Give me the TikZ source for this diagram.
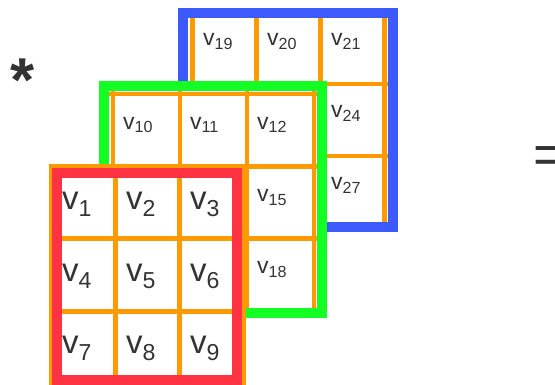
\documentclass[tikz,border=0pt]{standalone}
\usepackage{fontspec}
\setmainfont{Liberation Sans}
\definecolor{gridorange}{HTML}{FF9900}
\definecolor{layerblue}{HTML}{3D5AFE}
\definecolor{layergreen}{HTML}{14FF24}
\definecolor{layerred}{HTML}{FF3341}
\definecolor{labelgray}{HTML}{333333}

\begin{document}
\begin{tikzpicture}[x=1pt, y=-1pt,
    cellgrid/.style={draw=gridorange, line width=4.5pt},
    layerframe/.style={line width=10pt},
    cell/.style={anchor=base west, inner sep=0pt, text=labelgray},
    small cell/.style={cell, font=\fontsize{23}{28}\selectfont},
    big cell/.style={cell, font=\fontsize{33}{40}\selectfont},
    sign/.style={inner sep=0pt, text=labelgray, font=\fontsize{55}{60}\selectfont}]
    \useasboundingbox (0,0) rectangle (555,384);

    % Operators
    \node[sign, anchor=base, font=\fontsize{62}{66}\selectfont\bfseries] (star) at (23,101) {*};
    \node[sign, anchor=base west] (equals) at (533,173) {=};

    % Blue layer (back)
    \fill[white] (178,8) rectangle (398,232);
    \foreach \k in {0,...,3} {
        \draw[cellgrid] ({192.5+64*\k},12) -- ({192.5+64*\k},228);
        \draw[cellgrid] (188,{12+72*\k}) -- (388,{12+72*\k});
    }
    \draw[layerframe, draw=layerblue] (183,13) rectangle (393,227);
    \foreach \c/\r/\n in {0/0/19, 1/0/20, 2/0/21, 2/1/24, 2/2/27}
        \node[small cell] (v\n) at ({203+64*\c},{45.5+72*\r}) {v\textsubscript{\n}};

    % Green layer (middle)
    \fill[white] (99,81) rectangle (327,318);
    \foreach \k in {0,...,3} {
        \draw[cellgrid] ({113+67*\k},91) -- ({113+67*\k},308);
        \draw[cellgrid] (109,{94+72.3*\k}) -- (317,{94+72.3*\k});
    }
    \draw[layerframe, draw=layergreen] (104,86) rectangle (322,313);
    \foreach \c/\r/\n in {0/0/10, 1/0/11, 2/0/12, 2/1/15, 2/2/18}
        \node[small cell] (v\n) at ({123+67*\c},{129+72.3*\r}) {v\textsubscript{\n}};

    % Red layer (front)
    \fill[white] (49.25,163.75) rectangle (245.75,390);
    \foreach \k in {0,...,3} {
        \draw[cellgrid] ({51.5+64*\k},164) -- ({51.5+64*\k},390);
        \draw[cellgrid] (49.25,{166+72.7*\k}) -- (245.75,{166+72.7*\k});
    }
    \draw[layerframe, draw=layerred] (57,172.5) rectangle (237,380);
    \foreach \c/\r [evaluate=\r as \n using int(3*\r+\c+1)] in {0/0,1/0,2/0,0/1,1/1,2/1,0/2,1/2,2/2}
        \node[big cell] (v\n) at ({62+64*\c},{209+72*\r}) {v\textsubscript{\n}};
\end{tikzpicture}
\end{document}
